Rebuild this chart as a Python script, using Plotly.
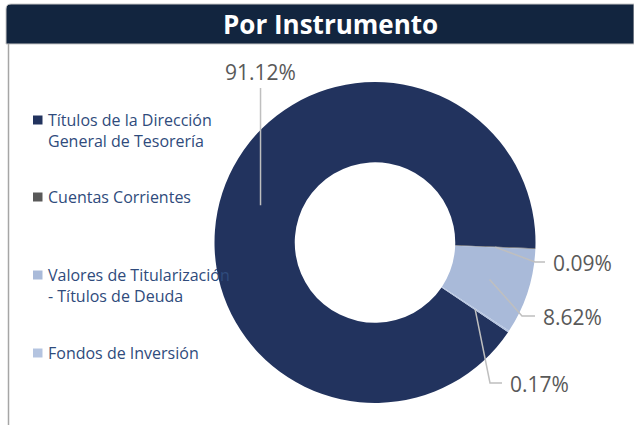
import numpy as np
import plotly.graph_objects as go

# Datos del gráfico
categorias = [
    "Títulos de la Dirección<br>General de Tesorería",
    "Cuentas Corrientes",
    "Valores de Titularización<br>- Títulos de Deuda",
    "Fondos de Inversión",
]
porcentajes = [91.12, 0.09, 8.62, 0.17]
colores = ["#22335E", "#595959", "#A9BAD9", "#B4C4E0"]

W, H = 634, 425
ROTACION = 124  # grados, sentido horario desde las 12


def px(x):
    return x / W


def py(y):
    return 1 - y / H


# Geometría de la dona (en píxeles)
cx, cy, r_ext, hueco = 375, 242.5, 160.5, 0.5
r_mid = r_ext * (1 + hueco) / 2

# Posición de cada etiqueta: codo de la guía, fin de la guía, texto
guias = [
    {"codo": None, "fin": (None, 88), "texto": (None, 72), "xanchor": "center"},
    {"codo": (535, 262), "fin": (545, 262), "texto": (551, 263), "xanchor": "left"},
    {"codo": (522, 316), "fin": (535, 316), "texto": (541, 317), "xanchor": "left"},
    {"codo": (490, 383), "fin": (502, 383), "texto": (508, 384), "xanchor": "left"},
]
leyenda_y = [120, 197, 275, 353]

fig = go.Figure(
    go.Pie(
        labels=[c.replace("<br>", " ") for c in categorias],
        values=porcentajes,
        hole=hueco,
        sort=False,
        direction="clockwise",
        rotation=ROTACION,
        marker=dict(colors=colores, line=dict(width=0)),
        textinfo="none",
        showlegend=False,
        domain=dict(
            x=[px(cx - r_ext), px(cx + r_ext)],
            y=[py(cy + r_ext), py(cy - r_ext)],
        ),
    )
)

shapes = []
annotations = []

# Barra del título
shapes.append(
    dict(
        type="path",
        xref="paper",
        yref="paper",
        path=(
            f"M {px(6)} {py(44)} L {px(6)} {py(9)} Q {px(6)} {py(4)} {px(11)} {py(4)} "
            f"L {px(634)} {py(4)} L {px(634)} {py(44)} Z"
        ),
        fillcolor="#12253F",
        line=dict(color="#C8C8C8", width=1),
    )
)
annotations.append(
    dict(
        text="<b>Por Instrumento</b>",
        x=px(330),
        y=py(24),
        xref="paper",
        yref="paper",
        showarrow=False,
        font=dict(family="Open Sans", size=26, color="white"),
        xanchor="center",
        yanchor="middle",
    )
)
# Borde izquierdo
shapes.append(
    dict(
        type="line",
        xref="paper",
        yref="paper",
        x0=px(8.5),
        x1=px(8.5),
        y0=py(44),
        y1=py(425),
        line=dict(color="#A6A6A6", width=1.5),
    )
)

# Etiquetas de porcentaje con guías calculadas desde los valores
total = sum(porcentajes)
acum = np.cumsum([0] + porcentajes)
for i, v in enumerate(porcentajes):
    ang = np.radians(ROTACION + 360 * (acum[i] + v / 2) / total)
    ax_ = cx + r_mid * np.sin(ang)
    ay_ = cy - r_mid * np.cos(ang)
    g = guias[i]
    puntos = [(ax_, ay_)]
    if g["codo"] is not None:
        puntos.append(g["codo"])
    fx, fy = g["fin"]
    puntos.append((ax_ if fx is None else fx, fy))
    path = "M " + " L ".join(f"{px(x)} {py(y)}" for x, y in puntos)
    shapes.append(
        dict(
            type="path",
            xref="paper",
            yref="paper",
            path=path,
            line=dict(color="#BFBFBF", width=1.5),
        )
    )
    tx, ty = g["texto"]
    annotations.append(
        dict(
            text=f"{v:.2f}%",
            x=px(ax_ if tx is None else tx),
            y=py(ty),
            xref="paper",
            yref="paper",
            showarrow=False,
            font=dict(family="Open Sans", size=21, color="#595959"),
            xanchor=g["xanchor"],
            yanchor="middle",
        )
    )

# Leyenda a la izquierda
for i, cat in enumerate(categorias):
    y0 = leyenda_y[i]
    shapes.append(
        dict(
            type="rect",
            xref="paper",
            yref="paper",
            x0=px(33),
            x1=px(42.5),
            y0=py(y0 - 4.5),
            y1=py(y0 + 4.5),
            fillcolor=colores[i],
            line=dict(width=0),
        )
    )
    for j, linea in enumerate(cat.split("<br>")):
        annotations.append(
            dict(
                text=linea,
                x=px(46),
                y=py(y0 + 21 * j),
                xref="paper",
                yref="paper",
                showarrow=False,
                font=dict(family="Open Sans", size=16, color="#2F4B7C"),
                xanchor="left",
                yanchor="middle",
            )
        )

fig.update_layout(
    width=W,
    height=H,
    margin=dict(l=0, r=0, t=0, b=0),
    paper_bgcolor="white",
    plot_bgcolor="white",
    shapes=shapes,
    annotations=annotations,
)

# Quitar el margen del body para que la figura ocupe la ventana completa
fig.write_html(
    "out.html",
    config={"displayModeBar": False},
    post_script="document.body.style.margin='0';",
)
